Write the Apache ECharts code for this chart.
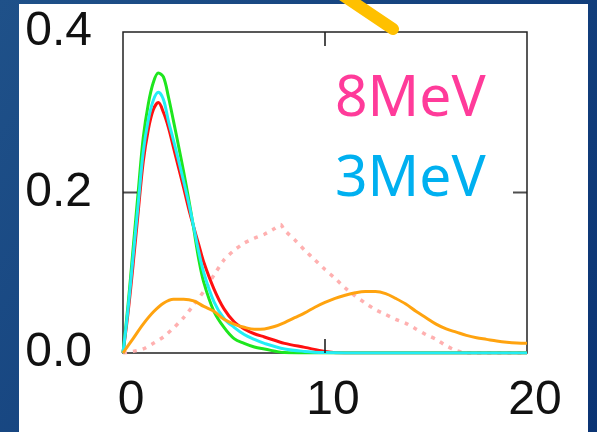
<!DOCTYPE html>
<html>
<head>
<meta charset="utf-8">
<script src="https://cdn.jsdelivr.net/npm/echarts@6/dist/echarts.min.js"></script>
<style>
  html, body { margin: 0; padding: 0; }
  #chart { width: 597px; height: 432px; }
</style>
</head>
<body>
<div id="chart"></div>
<script>
// energy grid shared by the three peaked curves
let peakX = [0, 0.25, 0.5, 0.75, 1, 1.25, 1.5, 1.75, 2, 2.25, 2.5, 2.75, 3, 3.25, 3.5, 3.75, 4,
  4.5, 5, 5.5, 6, 6.5, 7, 8, 9, 10, 11, 12, 14, 16, 18, 20];
let greenY = [0, 0.06, 0.13, 0.20, 0.268, 0.31, 0.337, 0.349, 0.344, 0.319, 0.289, 0.258, 0.226, 0.192, 0.155, 0.117, 0.088,
  0.052, 0.032, 0.018, 0.012, 0.0075, 0.005, 0.0005, 0, 0, 0, 0, 0, 0, 0, 0];
let cyanY = [0, 0.055, 0.12, 0.185, 0.25, 0.29, 0.315, 0.325, 0.316, 0.289, 0.265, 0.240, 0.214, 0.187, 0.157, 0.126, 0.100,
  0.064, 0.043, 0.032, 0.023, 0.017, 0.012, 0.005, 0.002, 0.0005, 0, 0, 0, 0, 0, 0];
let redY = [0, 0.05, 0.11, 0.175, 0.238, 0.278, 0.303, 0.312, 0.300, 0.281, 0.256, 0.231, 0.206, 0.180, 0.157, 0.135, 0.113,
  0.080, 0.055, 0.039, 0.030, 0.024, 0.020, 0.012, 0.007, 0.002, 0, 0, 0, 0, 0, 0];

let orangeX = [0, 0.5, 1, 1.5, 2, 2.5, 3, 3.5, 4, 4.5, 5, 5.5, 6, 6.5, 7, 7.5, 8, 8.5, 9, 9.5, 10,
  10.5, 11, 11.5, 12, 12.5, 13, 13.5, 14, 14.5, 15, 15.5, 16, 16.5, 17, 17.5, 18, 18.5, 19, 19.5, 20];
let orangeY = [0, 0.018, 0.036, 0.051, 0.062, 0.067, 0.067, 0.065, 0.058, 0.052, 0.042, 0.036, 0.032, 0.0295, 0.030, 0.033, 0.038, 0.044, 0.050, 0.057, 0.063,
  0.068, 0.072, 0.075, 0.0765, 0.0765, 0.074, 0.068, 0.061, 0.052, 0.044, 0.036, 0.030, 0.026, 0.022, 0.019, 0.017, 0.015, 0.0135, 0.0125, 0.012];

let pinkX = [0, 0.5, 1, 1.5, 2, 2.5, 3, 3.5, 4, 4.5, 5, 5.5, 6, 6.5, 7, 7.5, 7.8, 8, 8.5, 9,
  9.5, 10, 10.5, 11, 11.5, 12, 12.5, 13, 13.5, 14, 14.5, 15, 15.5, 16, 16.5, 17, 20];
let pinkY = [0, 0.002, 0.005, 0.012, 0.020, 0.031, 0.044, 0.060, 0.077, 0.097, 0.116, 0.128, 0.137, 0.143, 0.148, 0.155, 0.16, 0.153, 0.141, 0.128,
  0.116, 0.104, 0.093, 0.081, 0.071, 0.062, 0.054, 0.048, 0.042, 0.037, 0.030, 0.023, 0.017, 0.009, 0.003, 0, 0];

let xTicks = [0, 10, 20];
let yTicks = [0, 0.2, 0.4];
let labels = ['8MeV', '3MeV'];

function pairs(xs, ys) {
    return xs.map(function (x, i) { return [x, ys[i]]; });
}

let chart = echarts.init(document.getElementById('chart'));
let axisFont = { fontFamily: 'Liberation Sans', fontSize: 48, color: '#111' };
let tickLen = 14;

function curve(name, data, color, width, smooth) {
    return {
        name: name, type: 'line', data: data, showSymbol: false, smooth: smooth,
        lineStyle: { color: color, width: width }, silent: true, animation: false
    };
}

// inward tick marks at the middle ticks, drawn as thin rect symbols on the frame
function tickMarks(points, size, offset) {
    return {
        type: 'scatter', data: points, symbol: 'rect', symbolSize: size, symbolOffset: offset,
        itemStyle: { color: '#222' }, silent: true, clip: false, z: 6
    };
}

let pink = curve('dotted', pairs(pinkX, pinkY), '#ffb0b0', 3.5, 0.2);
pink.lineStyle.type = [4, 6];

let option = {
    backgroundColor: new echarts.graphic.LinearGradient(0, 0, 1, 1, [
        { offset: 0, color: '#1f5189' },
        { offset: 1, color: '#0b3474' }
    ]),
    animation: false,
    grid: {
        left: 123, top: 32, right: 70, bottom: 79,
        show: true, borderColor: '#222', borderWidth: 1.5, backgroundColor: 'transparent'
    },
    xAxis: {
        type: 'value', min: xTicks[0], max: xTicks[2], interval: 10,
        axisLine: { show: false }, axisTick: { show: false }, splitLine: { show: false },
        axisLabel: Object.assign({ margin: 24, padding: [0, 0, 0, 16] }, axisFont)
    },
    yAxis: {
        type: 'value', min: yTicks[0], max: yTicks[2], interval: 0.2,
        axisLine: { show: false }, axisTick: { show: false }, splitLine: { show: false },
        axisLabel: Object.assign({ margin: 31, formatter: function (v) { return v.toFixed(1); } }, axisFont)
    },
    graphic: [
        { type: 'rect', z: -1, shape: { x: 19, y: 4, width: 569, height: 440 }, style: { fill: '#fff' } },
        {
            type: 'text', left: 335, top: 71, z: 50,
            style: { text: labels[0], fill: '#ff3b9a', font: '57px "Noto Sans"' }
        },
        {
            type: 'text', left: 335, top: 151, z: 50,
            style: { text: labels[1], fill: '#00b0f0', font: '57px "Noto Sans"' }
        },
        {
            type: 'line', z: 60,
            shape: { x1: 335, y1: -10, x2: 393, y2: 29 },
            style: { stroke: '#ffc000', lineWidth: 12, lineCap: 'round' }
        }
    ],
    series: [
        pink,
        curve('red', pairs(peakX, redY), '#ff1010', 3, 0.35),
        curve('green', pairs(peakX, greenY), '#1ee61e', 3, 0.35),
        curve('cyan', pairs(peakX, cyanY), '#22eef5', 3, 0.35),
        curve('orange', pairs(orangeX, orangeY), '#ffa30f', 3, 0.35),
        tickMarks([[xTicks[0], yTicks[1]]], [tickLen, 2], [tickLen / 2, 0]),
        tickMarks([[xTicks[2], yTicks[1]]], [tickLen, 2], [-tickLen / 2, 0]),
        tickMarks([[xTicks[1], yTicks[0]]], [2, tickLen], [0, -tickLen / 2]),
        tickMarks([[xTicks[1], yTicks[2]]], [2, tickLen], [0, tickLen / 2])
    ]
};
chart.setOption(option);
</script>
</body>
</html>
